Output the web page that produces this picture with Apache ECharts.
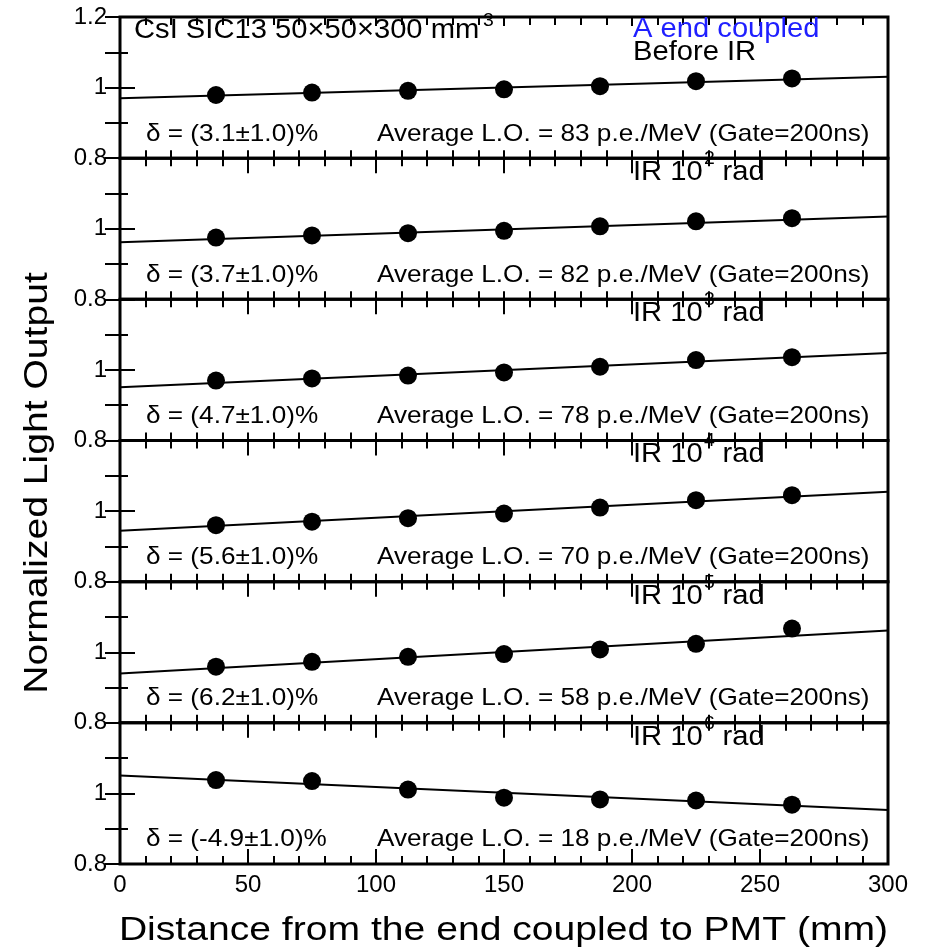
<!DOCTYPE html>
<html>
<head>
<meta charset="utf-8">
<script src="https://cdn.jsdelivr.net/npm/echarts@6/dist/echarts.min.js"></script>
<style>
html,body{margin:0;padding:0;background:#fff;}
#chart{width:925px;height:952px;}
</style>
</head>
<body>
<div id="chart"></div>
<script>
// ---- data ----
const positions = [37.5, 75, 112.5, 150, 187.5, 225, 262.5];
const loBefore = [0.979, 0.986, 0.991, 0.995, 1.004, 1.018, 1.026];
const lo1e2    = [0.975, 0.981, 0.9875, 0.994, 1.007, 1.021, 1.030];
const lo1e3    = [0.970, 0.976, 0.984, 0.993, 1.009, 1.028, 1.036];
const lo1e4    = [0.960, 0.970, 0.980, 0.993, 1.010, 1.031, 1.045];
const lo1e5    = [0.959, 0.973, 0.987, 0.995, 1.008, 1.024, 1.067];
const lo1e6    = [1.038, 1.035, 1.011, 0.988, 0.983, 0.980, 0.968];
const fitX     = [0, 300];
const fitStart = [0.970, 0.962, 0.951, 0.944, 0.940, 1.051];
const fitEnd   = [1.031, 1.035, 1.048, 1.055, 1.062, 0.953];
const deltas   = ['3.1', '3.7', '4.7', '5.6', '6.2', '-4.9'];
const avgLO    = [83, 82, 78, 70, 58, 18];
const doseExp  = ['', '2', '3', '4', '5', '6'];
const xTicks   = [0, 50, 100, 150, 200, 250, 300];
const yTicks   = ['0.8', '1', '1.2'];

const panels = [loBefore, lo1e2, lo1e3, lo1e4, lo1e5, lo1e6];

// ---- layout ----
const FONT = '"Liberation Sans", Arial, Helvetica, sans-serif';
const L = 120, W = 768, T0 = 17, PH = 141.17;
const N = panels.length;

const grids = [], xAxes = [], yAxes = [], series = [], graphics = [];
const tickStyle = {color: '#000', width: 2};

function txt(x, y, text, size, opts) {
  opts = opts || {};
  return {type: 'text', x: x, y: y, originX: 0, originY: 0,
    scaleX: opts.sx || 1.08, rotation: opts.rot || 0, z: opts.z === undefined ? 10 : opts.z,
    style: {text: text, font: size + 'px ' + FONT, fill: opts.color || '#000',
      textAlign: opts.align || 'left', textVerticalAlign: 'middle'}};
}

for (let i = 0; i < N; i++) {
  const top = T0 + i * PH;
  grids.push({left: L, width: W, top: top, height: PH, show: true,
    borderColor: '#000', borderWidth: 3, backgroundColor: 'transparent'});
  const last = i === N - 1;
  xAxes.push({type: 'value', gridIndex: i, position: 'bottom', min: xTicks[0], max: xTicks[xTicks.length - 1],
    interval: xTicks[1] - xTicks[0],
    axisLine: {show: false},
    axisTick: {show: true, inside: true, length: last ? 15 : 8, lineStyle: tickStyle},
    minorTick: {show: true, splitNumber: 5, length: 8, lineStyle: tickStyle},
    splitLine: {show: false}, minorSplitLine: {show: false},
    axisLabel: {show: last, color: '#000', fontSize: 24, fontFamily: FONT, margin: 9}
  });
  xAxes.push({type: 'value', gridIndex: i, position: 'top', min: xTicks[0], max: xTicks[xTicks.length - 1],
    interval: xTicks[1] - xTicks[0],
    axisLine: {show: false},
    axisTick: {show: true, inside: true, length: i === 0 ? 9 : 15, lineStyle: tickStyle},
    minorTick: {show: true, splitNumber: 5, length: 8, lineStyle: tickStyle},
    splitLine: {show: false}, minorSplitLine: {show: false},
    axisLabel: {show: false}
  });
  yAxes.push({type: 'value', gridIndex: i, position: 'left', min: 0.8, max: 1.2, interval: 0.2,
    axisLine: {show: false},
    axisTick: {show: true, inside: true, length: 15, lineStyle: tickStyle},
    minorTick: {show: true, splitNumber: 2, length: 8, lineStyle: tickStyle},
    splitLine: {show: false}, minorSplitLine: {show: false},
    axisLabel: {show: true, color: '#000', fontSize: 24, fontFamily: FONT, margin: 13,
      showMinLabel: true, showMaxLabel: true,
      formatter: (function (idx) {
        return function (v) {
          if (Math.abs(v - 0.8) < 1e-6) return yTicks[0];
          if (Math.abs(v - 1.0) < 1e-6) return yTicks[1];
          if (Math.abs(v - 1.2) < 1e-6) return idx === 0 ? yTicks[2] : '';
          return '';
        };
      })(i)}
  });
  yAxes.push({type: 'value', gridIndex: i, position: 'right', min: 0.8, max: 1.2, interval: 0.1,
    axisLine: {show: false},
    axisTick: {show: true, inside: true, length: 15, lineStyle: tickStyle},
    splitLine: {show: false},
    axisLabel: {show: false}
  });

  series.push({type: 'line', xAxisIndex: 2 * i, yAxisIndex: 2 * i,
    data: [[fitX[0], fitStart[i]], [fitX[1], fitEnd[i]]],
    symbol: 'none', lineStyle: {color: '#000', width: 2}, silent: true, z: 2});
  series.push({type: 'scatter', xAxisIndex: 2 * i, yAxisIndex: 2 * i,
    data: positions.map((x, j) => [x, panels[i][j]]),
    symbol: 'circle', symbolSize: 18, itemStyle: {color: '#000', opacity: 1}, silent: true, z: 3});

  graphics.push(txt(146, top + 117, 'δ = (' + deltas[i] + '±1.0)%', 24, {sx: 1.09}));
  graphics.push(txt(377, top + 117, 'Average L.O. = ' + avgLO[i] + ' p.e./MeV (Gate=200ns)', 24, {sx: 1.09}));
  if (i > 0) {
    graphics.push(txt(633, top + 14.5, 'IR 10', 27));
    graphics.push(txt(704, top + 1, doseExp[i], 18, {z: 1}));
    graphics.push(txt(722.5, top + 14.5, 'rad', 27));
  }
}

graphics.push(txt(134, 31, 'CsI SIC13 50×50×300 mm', 27));
graphics.push(txt(483, 21.5, '3', 18));
graphics.push(txt(633, 29.5, 'A end coupled', 27, {color: '#1f1fff'}));
graphics.push(txt(633, 52.5, 'Before IR', 27));

graphics.push(txt(503.5, 931, 'Distance from the end coupled to PMT (mm)', 34, {sx: 1.15, align: 'center'}));
graphics.push(txt(38, 483, 'Normalized Light Output', 34, {sx: 1.15, align: 'center', rot: Math.PI / 2}));

const chart = echarts.init(document.getElementById('chart'), null, {renderer: 'canvas'});
chart.setOption({
  animation: false,
  backgroundColor: '#fff',
  grid: grids,
  xAxis: xAxes,
  yAxis: yAxes,
  series: series,
  graphic: {elements: graphics}
});
</script>
</body>
</html>
